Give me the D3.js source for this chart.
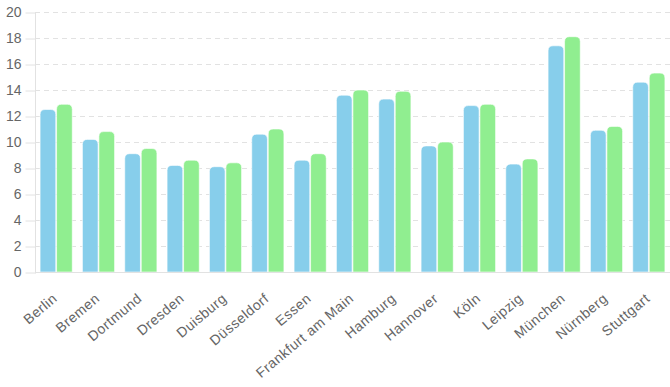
<!DOCTYPE html>
<html>
<head>
<meta charset="utf-8">
<script src="https://cdn.jsdelivr.net/npm/d3@7"></script>
<style>
  body { margin: 0; background: #fff; }
  svg { display: block; font-family: "Liberation Sans", Arial, sans-serif; }
</style>
</head>
<body>
<svg id="chart" width="670" height="387"></svg>
<script>
// data
var cities = ["Berlin", "Bremen", "Dortmund", "Dresden", "Duisburg", "Düsseldorf", "Essen",
    "Frankfurt am Main", "Hamburg", "Hannover", "Köln", "Leipzig", "München", "Nürnberg", "Stuttgart"];
var blueValues = [12.5, 10.2, 9.1, 8.2, 8.1, 10.6, 8.6, 13.6, 13.3, 9.7, 12.8, 8.3, 17.4, 10.9, 14.6];
var greenValues = [12.9, 10.8, 9.5, 8.6, 8.4, 11.0, 9.1, 14.0, 13.9, 10.0, 12.9, 8.7, 18.1, 11.2, 15.3];
var yTicks = [0, 2, 4, 6, 8, 10, 12, 14, 16, 18, 20];

var seriesKeys = ["blue", "green"];
var colors = { blue: "#87ceeb", green: "#90ee90" };

var plotLeft = 35, plotRight = 670, plotTop = 12, plotBottom = 272;

var svg = d3.select("#chart");

var x = d3.scaleBand()
    .domain(cities)
    .range([plotLeft, plotRight])
    .paddingInner(0.24)
    .paddingOuter(0.12);

var x1 = d3.scaleBand()
    .domain(seriesKeys)
    .range([0, x.bandwidth()])
    .paddingInner(0.05);

var y = d3.scaleLinear()
    .domain([0, 20])
    .range([plotBottom, plotTop]);

// grid lines (dashed)
var grid = svg.append("g");
yTicks.forEach(function(t) {
    if (t > 0) {
        grid.append("line")
            .attr("x1", plotLeft)
            .attr("x2", plotRight)
            .attr("y1", y(t) + 0.5)
            .attr("y2", y(t) + 0.5)
            .attr("stroke", "#e2e2e2")
            .attr("stroke-dasharray", "5,4");
    }
});

// y axis
var yAxis = d3.axisLeft(y).tickValues(yTicks).tickSize(10).tickPadding(4);
var yG = svg.append("g")
    .attr("transform", "translate(" + (plotLeft + 0.5) + ",0.5)")
    .call(yAxis);
yG.select(".domain").attr("stroke", "#e2e2e2").attr("d", "M0," + plotTop + "V" + (plotBottom + 1));
yG.selectAll(".tick line").attr("stroke", "#e2e2e2");
yG.selectAll(".tick text")
    .attr("fill", "#666")
    .style("font-size", "14px")
    .style("font-family", "Liberation Sans, Arial, sans-serif");

// rounded top bar
function barPath(x0, w, yTop, yBase, r) {
    r = Math.min(r, w / 2, yBase - yTop);
    return "M" + x0 + "," + yBase +
        "V" + (yTop + r) +
        "Q" + x0 + "," + yTop + " " + (x0 + r) + "," + yTop +
        "H" + (x0 + w - r) +
        "Q" + (x0 + w) + "," + yTop + " " + (x0 + w) + "," + (yTop + r) +
        "V" + yBase + "Z";
}

var rows = cities.map(function(c, i) {
    return { city: c, blue: blueValues[i], green: greenValues[i] };
});

var groups = svg.append("g").selectAll("g")
    .data(rows)
    .enter()
    .append("g")
        .attr("transform", function(d) { return "translate(" + x(d.city) + ",0)"; });

groups.selectAll("path")
    .data(function(d) { return seriesKeys.map(function(k) { return { key: k, value: d[k] }; }); })
    .enter()
    .append("path")
        .attr("d", function(d) { return barPath(x1(d.key), x1.bandwidth(), y(d.value), y(0), 5); })
        .attr("fill", function(d) { return colors[d.key]; })
        .attr("stroke", "#fff")
        .attr("stroke-opacity", 0.6)
        .attr("stroke-width", 1);

// x axis baseline
svg.append("line")
    .attr("x1", plotLeft)
    .attr("x2", plotRight)
    .attr("y1", plotBottom + 0.5)
    .attr("y2", plotBottom + 0.5)
    .attr("stroke", "#e2e2e2");

// rotated category labels
svg.append("g").selectAll("text")
    .data(cities)
    .enter()
    .append("text")
        .attr("transform", function(d) {
            return "translate(" + (x(d) + x.bandwidth() / 2 + 2) + "," + (plotBottom + 28) + ") rotate(-40)";
        })
        .attr("text-anchor", "end")
        .attr("fill", "#666")
        .style("font-size", "14px")
        .style("letter-spacing", "0.5px")
        .text(function(d) { return d; });
</script>
</body>
</html>
